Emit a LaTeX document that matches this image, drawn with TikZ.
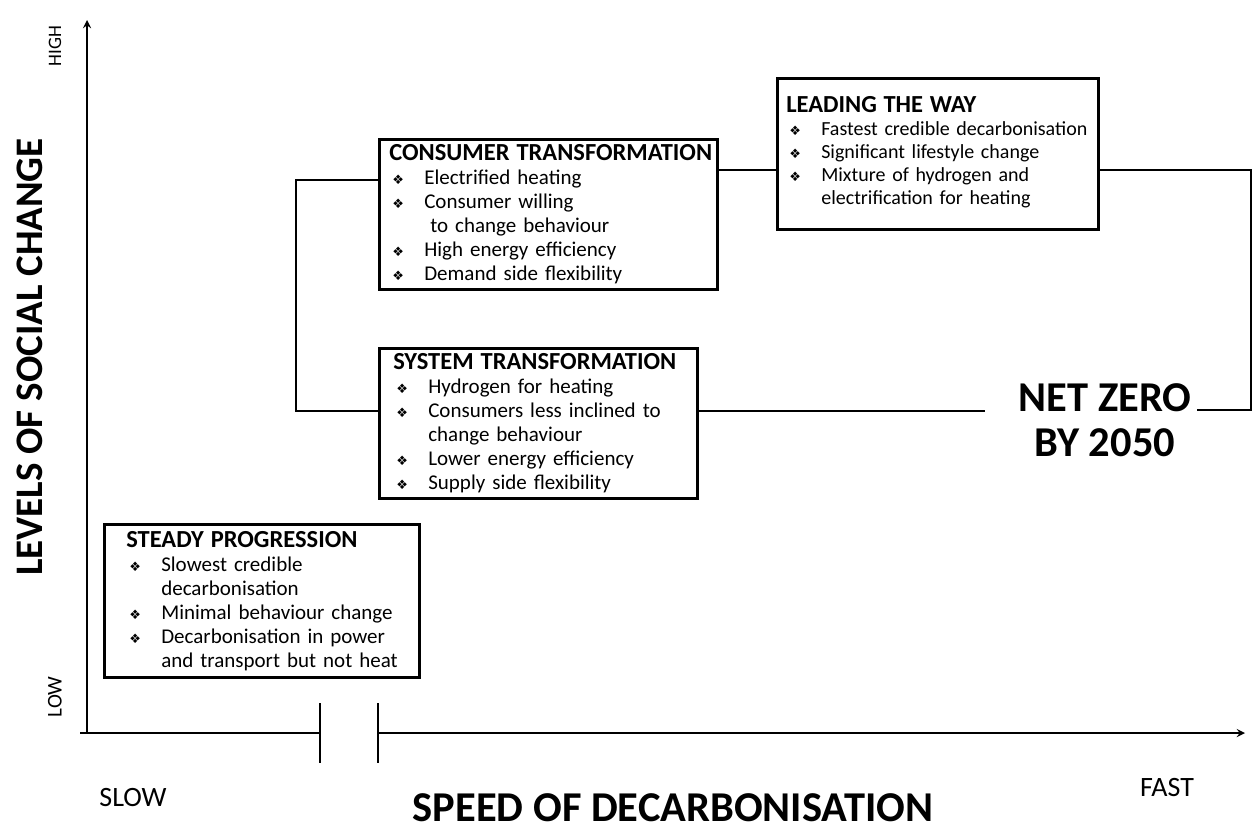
\documentclass[tikz,border=0pt]{standalone}
\usepackage{fontspec}
\setmainfont{Carlito}
\newfontfamily\dingfont{DejaVu Sans}
\usetikzlibrary{calc}

\newcommand{\itm}[1]{\mbox{\hspace*{3pt}\makebox[32pt][l]{\dingfont\fontsize{13}{13}\selectfont ❖}#1}}
\newcommand{\cnt}[1]{\mbox{\hspace*{35pt}#1}}
\newcommand{\ttl}[1]{\mbox{\bfseries\fontsize{24.5}{24}\selectfont #1}}

\begin{document}
\begin{tikzpicture}[x=1pt,y=-1pt,
    box/.style={draw,line width=2.6pt,anchor=north west,align=left,
      inner ysep=1pt,font=\fontsize{21}{24}\selectfont},
    link/.style={line width=2.2pt},
    axis/.style={line width=2.6pt},
    >=stealth]
  \useasboundingbox (0,0) rectangle (1255,830);
  % axes
  \coordinate (O) at (87,733);
  \draw[axis,->] (O)--(87,20);
  \draw[axis] (80,733)--(320,733);
  \draw[axis] (320,703)--(320,763);
  \draw[axis] (378,703)--(378,763);
  \draw[axis,->] (378,733)--(1245,733);
  \node[rotate=90,font=\fontsize{19}{19}\selectfont] (hi) at (55,46) {HIGH};
  \node[rotate=90,font=\fontsize{21}{21}\selectfont] (lo) at (55,697) {LOW};
  \node[rotate=90,font=\bfseries\fontsize{39}{39}\selectfont] (ylab) at (30,357) {LEVELS OF SOCIAL CHANGE};
  \node[font=\fontsize{28}{28}\selectfont] (slow) at (133,797) {SLOW};
  \node[font=\fontsize{28}{28}\selectfont] (fast) at (1167,787) {FAST};
  \node[font=\bfseries\fontsize{42.5}{42}\selectfont] (xlab) at (673,808) {SPEED OF DECARBONISATION};
  % scenarios
  \node[box,minimum width=338,minimum height=150,inner xsep=10pt,text width=318] (cons) at (378,138)
    {\ttl{CONSUMER TRANSFORMATION}\\
     \itm{Electrified heating}\\
     \itm{Consumer willing}\\
     \cnt{\hspace*{6pt}to change behaviour}\\
     \itm{High energy efficiency}\\
     \itm{Demand side flexibility}};
  \node[box,minimum width=321,minimum height=151,inner xsep=9pt,text width=303,
      font=\fontsize{20}{23}\selectfont] (lead) at (776,77)
    {\ttl{LEADING THE WAY}\\
     \itm{Fastest credible decarbonisation}\\
     \itm{Significant lifestyle change}\\
     \itm{Mixture of hydrogen and}\\
     \cnt{electrification for heating}\par\vspace{4pt}\hrule height 0pt};
  \node[box,minimum width=318,minimum height=150,inner xsep=14pt,text width=290] (sys) at (378,347)
    {\ttl{SYSTEM TRANSFORMATION}\\
     \itm{Hydrogen for heating}\\
     \itm{Consumers less inclined to}\\
     \cnt{change behaviour}\\
     \itm{Lower energy efficiency}\\
     \itm{Supply side flexibility}};
  \node[box,minimum width=315,minimum height=153,inner xsep=22pt,text width=271] (steady) at (103,523)
    {\ttl{STEADY PROGRESSION}\\
     \itm{Slowest credible}\\
     \cnt{decarbonisation}\\
     \itm{Minimal behaviour change}\\
     \itm{Decarbonisation in power}\\
     \cnt{and transport but not heat}};
  \node[align=center,font=\bfseries\fontsize{42.5}{45}\selectfont] (net) at (1105,420) {NET ZERO\\BY 2050};
  \coordinate (nzl) at (985,411);
  \coordinate (nzr) at (1197,410);
  % links
  \draw[link] (sys.west |- 0,411) -| (296,180) -- (cons.west |- 0,180);
  \draw[link] (cons.east |- 0,170) -- (lead.west |- 0,170);
  \draw[link] (lead.east |- 0,170) -| (1251,410) -- (nzr);
  \draw[link] (sys.east |- 0,411) -- (nzl);
\end{tikzpicture}
\end{document}
